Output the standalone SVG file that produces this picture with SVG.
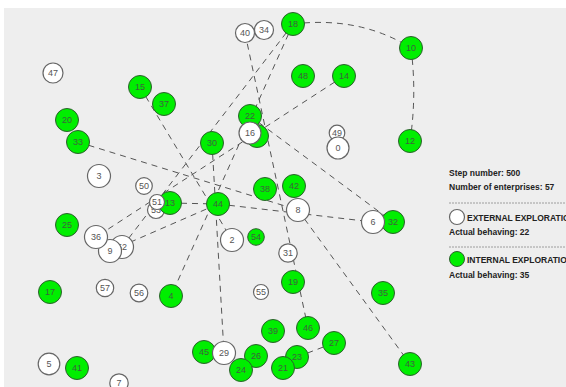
<svg xmlns="http://www.w3.org/2000/svg" width="566" height="387" viewBox="0 0 566 387">
<style>
.g circle{fill:#00ee00;stroke:#2e5e2e;stroke-width:1}
.w circle{fill:#ffffff;stroke:#666;stroke-width:1.2}
.g text{fill:#3f5f3f}
.w text{fill:#555}
text{font-family:"Liberation Sans",Arial,sans-serif;font-size:9px;text-anchor:middle}
.lnk path,.lnk line{stroke:#555;stroke-width:1;stroke-dasharray:6 5;fill:none}
.info{font-family:"Liberation Sans",Arial,sans-serif;font-size:8.5px;font-weight:bold;text-anchor:start;fill:#222}
.sep{stroke:#888;stroke-width:0.8;stroke-dasharray:2 1}
</style>
<rect width="566" height="387" fill="#ffffff"/>
<rect x="4" y="8" width="562" height="379" fill="#eeeeee"/>
<g id="connectors" class="lnk">
<path d="M293 24 Q360 16 411 48"/>
<path d="M411 48 Q417 95 410 141"/>
<line x1="293" y1="24" x2="171" y2="296"/>
<line x1="293" y1="24" x2="122" y2="247"/>
<line x1="245" y1="33" x2="308" y2="328"/>
<line x1="344" y1="76" x2="96" y2="237"/>
<line x1="250" y1="116" x2="393" y2="222"/>
<line x1="78" y1="142" x2="298" y2="210"/>
<line x1="298" y1="210" x2="410" y2="364"/>
<line x1="218" y1="204" x2="373" y2="222"/>
<line x1="110" y1="251" x2="218" y2="204"/>
<line x1="170" y1="203" x2="218" y2="204"/>
<line x1="140" y1="87" x2="232" y2="240"/>
<line x1="212" y1="143" x2="224" y2="353"/>
<line x1="297" y1="357" x2="334" y2="343"/>
</g>
<g id="n47" class="w"><circle cx="53" cy="73" r="10"/><text x="53" y="76">47</text></g>
<g id="n40" class="w"><circle cx="245" cy="33" r="9.5"/><text x="245" y="36">40</text></g>
<g id="n34" class="w"><circle cx="264" cy="30" r="9.5"/><text x="264" y="33">34</text></g>
<g id="n18" class="g"><circle cx="293" cy="24" r="11.5"/><text x="293" y="27">18</text></g>
<g id="n10" class="g"><circle cx="411" cy="48" r="11.5"/><text x="411" y="51">10</text></g>
<g id="n48" class="g"><circle cx="303" cy="76" r="11.5"/><text x="303" y="79">48</text></g>
<g id="n14" class="g"><circle cx="344" cy="76" r="11.5"/><text x="344" y="79">14</text></g>
<g id="n15" class="g"><circle cx="140" cy="87" r="11.5"/><text x="140" y="90">15</text></g>
<g id="n37" class="g"><circle cx="164" cy="104" r="11.5"/><text x="164" y="107">37</text></g>
<g id="n20" class="g"><circle cx="67" cy="120" r="11.5"/><text x="67" y="123">20</text></g>
<g id="n33" class="g"><circle cx="78" cy="142" r="11.5"/><text x="78" y="145">33</text></g>
<g id="n22" class="g"><circle cx="250" cy="116" r="11.5"/><text x="250" y="119">22</text></g>
<g id="n_hidden" class="g"><circle cx="257" cy="136" r="11.5"/></g>
<g id="n16" class="w"><circle cx="250" cy="133" r="11"/><text x="250" y="136">16</text></g>
<g id="n30" class="g"><circle cx="212" cy="143" r="11.5"/><text x="212" y="146">30</text></g>
<g id="n49" class="w"><circle cx="337" cy="133" r="7.8"/><text x="337" y="136">49</text></g>
<g id="n0" class="w"><circle cx="338" cy="148" r="11"/><text x="338" y="151">0</text></g>
<g id="n12" class="g"><circle cx="410" cy="141" r="11.5"/><text x="410" y="144">12</text></g>
<g id="n3" class="w"><circle cx="99" cy="176" r="11.5"/><text x="99" y="179">3</text></g>
<g id="n50" class="w"><circle cx="144" cy="186" r="8.3"/><text x="144" y="189">50</text></g>
<g id="n53" class="w"><circle cx="156" cy="210" r="8.5"/><text x="156" y="213">53</text></g>
<g id="n13" class="g"><circle cx="170" cy="203" r="11.5"/><text x="170" y="206">13</text></g>
<g id="n51" class="w"><circle cx="157" cy="202" r="7.5"/><text x="157" y="205">51</text></g>
<g id="n38" class="g"><circle cx="265" cy="189" r="11.5"/><text x="265" y="192">38</text></g>
<g id="n42" class="g"><circle cx="294" cy="186" r="11.5"/><text x="294" y="189">42</text></g>
<g id="n8" class="w"><circle cx="298" cy="210" r="11.5"/><text x="298" y="213">8</text></g>
<g id="n44" class="g"><circle cx="218" cy="204" r="11.5"/><text x="218" y="207">44</text></g>
<g id="n32" class="g"><circle cx="393" cy="222" r="11.5"/><text x="393" y="225">32</text></g>
<g id="n6" class="w"><circle cx="373" cy="222" r="11.5"/><text x="373" y="225">6</text></g>
<g id="n25" class="g"><circle cx="67" cy="225" r="11.5"/><text x="67" y="228">25</text></g>
<g id="n52" class="w"><circle cx="122" cy="247" r="11.5"/><text x="122" y="250">52</text></g>
<g id="n9" class="w"><circle cx="110" cy="251" r="11.5"/><text x="110" y="254">9</text></g>
<g id="n36" class="w"><circle cx="96" cy="237" r="11.5"/><text x="96" y="240">36</text></g>
<g id="n2" class="w"><circle cx="232" cy="240" r="11.5"/><text x="232" y="243">2</text></g>
<g id="n54" class="g"><circle cx="256" cy="237" r="8.3"/><text x="256" y="240">54</text></g>
<g id="n31" class="w"><circle cx="288" cy="253" r="9.2"/><text x="288" y="256">31</text></g>
<g id="n17" class="g"><circle cx="50" cy="292" r="11.5"/><text x="50" y="295">17</text></g>
<g id="n57" class="w"><circle cx="105" cy="288" r="8.7"/><text x="105" y="291">57</text></g>
<g id="n56" class="w"><circle cx="139" cy="293" r="8.8"/><text x="139" y="296">56</text></g>
<g id="n4" class="g"><circle cx="171" cy="296" r="11.5"/><text x="171" y="299">4</text></g>
<g id="n19" class="g"><circle cx="293" cy="282" r="11.5"/><text x="293" y="285">19</text></g>
<g id="n55" class="w"><circle cx="261" cy="292" r="7.5"/><text x="261" y="295">55</text></g>
<g id="n35" class="g"><circle cx="383" cy="293" r="11.5"/><text x="383" y="296">35</text></g>
<g id="n39" class="g"><circle cx="273" cy="331" r="11.5"/><text x="273" y="334">39</text></g>
<g id="n46" class="g"><circle cx="308" cy="328" r="11.5"/><text x="308" y="331">46</text></g>
<g id="n27" class="g"><circle cx="334" cy="343" r="11.5"/><text x="334" y="346">27</text></g>
<g id="n45" class="g"><circle cx="204" cy="352" r="11.5"/><text x="204" y="355">45</text></g>
<g id="n29" class="w"><circle cx="224" cy="353" r="11.5"/><text x="224" y="356">29</text></g>
<g id="n26" class="g"><circle cx="256" cy="356" r="11.5"/><text x="256" y="359">26</text></g>
<g id="n24" class="g"><circle cx="241" cy="370" r="11.5"/><text x="241" y="373">24</text></g>
<g id="n23" class="g"><circle cx="297" cy="357" r="11.5"/><text x="297" y="360">23</text></g>
<g id="n21" class="g"><circle cx="283" cy="368" r="11.5"/><text x="283" y="371">21</text></g>
<g id="n43" class="g"><circle cx="410" cy="364" r="11.5"/><text x="410" y="367">43</text></g>
<g id="n5" class="w"><circle cx="49" cy="364" r="10.8"/><text x="49" y="367">5</text></g>
<g id="n41" class="g"><circle cx="77" cy="368" r="11.5"/><text x="77" y="371">41</text></g>
<g id="n7" class="w"><circle cx="119" cy="383" r="9.2"/><text x="119" y="386">7</text></g>
<g id="legend">
<text class="info" x="449" y="176">Step number: 500</text>
<text class="info" x="449" y="190">Number of enterprises: 57</text>
<line class="sep" x1="449" y1="203" x2="566" y2="203"/>
<circle cx="457" cy="217" r="7.5" fill="#ffffff" stroke="#666" stroke-width="1.2"/>
<text class="info" x="467" y="221">EXTERNAL EXPLORATION</text>
<text class="info" x="449" y="235">Actual behaving: 22</text>
<line class="sep" x1="449" y1="247" x2="566" y2="247"/>
<circle cx="457" cy="259" r="7.5" fill="#00ee00" stroke="#2e5e2e" stroke-width="1"/>
<text class="info" x="467" y="263">INTERNAL EXPLORATION</text>
<text class="info" x="449" y="278">Actual behaving: 35</text>
</g>
</svg>
